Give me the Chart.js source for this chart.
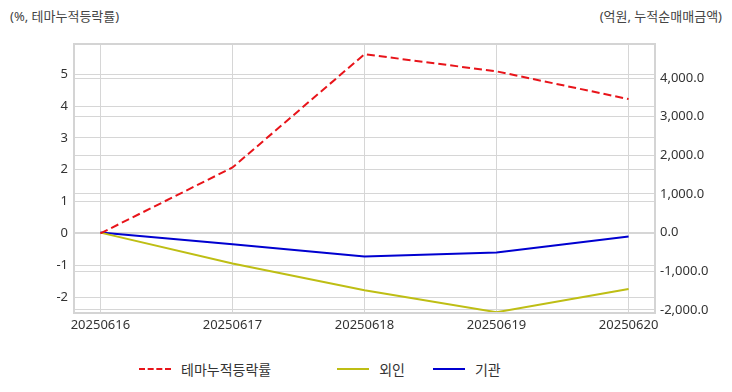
<!DOCTYPE html>
<html>
<head>
<meta charset="utf-8">
<script src="https://cdn.jsdelivr.net/npm/chart.js@4/dist/chart.umd.min.js"></script>
<style>
  html, body { margin: 0; padding: 0; background: #fff; }
  body { width: 732px; height: 392px; position: relative; overflow: hidden;
         font-family: "Noto Sans", "Noto Sans CJK KR", sans-serif; color: #333; }
  .axis-title { position: absolute; top: 6px; font-size: 13px; color: #444; }
  #chart-wrap { position: absolute; left: 0; top: 0; width: 732px; height: 340px; }
  #legend { position: absolute; left: 139px; top: 359px; display: flex; align-items: center; font-size: 14px; color: #333; }
  .lg-item { display: flex; align-items: center; }
  .lg-line { width: 32px; height: 0; border-top-width: 2px; margin-right: 10px; }
</style>
</head>
<body>
  <div class="axis-title" style="left:10px">(%, 테마누적등락률)</div>
  <div class="axis-title" style="right:10px">(억원, 누적순매매금액)</div>
  <div id="chart-wrap"><canvas id="chart"></canvas></div>
  <div id="legend"></div>

<script>
// 날짜
const dates = ['20250616', '20250617', '20250618', '20250619', '20250620'];
// 테마 누적등락률 (%)
const themeRate = [0, 2.07, 5.63, 5.09, 4.22];
// 누적순매매금액 (억원)
const foreignNet = [0, -800, -1490, -2060, -1460];
const instNet = [0, -300, -615, -513, -103];
// 오른쪽 축 눈금
const rightTicks = [-2000, -1000, 0, 1000, 2000, 3000, 4000];

const toPoints = arr => arr.map((v, i) => ({ x: i, y: v }));

const gridColor = '#d6d6d6';
const tickFont = { family: '"Noto Sans", "Noto Sans CJK KR", sans-serif', size: 13 };

const frame = {
  id: 'frame',
  afterDraw(chart) {
    const { ctx, chartArea: a } = chart;
    ctx.save();
    ctx.strokeStyle = '#d4d4d4';
    ctx.lineWidth = 2;
    ctx.strokeRect(a.left, a.top, a.right - a.left, a.bottom - a.top);
    ctx.restore();
  }
};

const chart = new Chart(document.getElementById('chart'), {
  type: 'line',
  data: {
    datasets: [
      { label: '테마누적등락률', data: toPoints(themeRate), yAxisID: 'y',
        borderColor: '#e8141a', borderWidth: 2, borderDash: [8, 4], pointRadius: 0, tension: 0 },
      { label: '외인', data: toPoints(foreignNet), yAxisID: 'y1',
        borderColor: '#bebe14', borderWidth: 2, pointRadius: 0, tension: 0 },
      { label: '기관', data: toPoints(instNet), yAxisID: 'y1',
        borderColor: '#0000d0', borderWidth: 2, pointRadius: 0, tension: 0 }
    ]
  },
  options: {
    responsive: true,
    maintainAspectRatio: false,
    animation: false,
    layout: { padding: { top: 44, left: 0, right: 0, bottom: 0 } },
    plugins: { legend: { display: false }, tooltip: { enabled: false } },
    scales: {
      x: {
        type: 'linear', min: -0.2, max: 4.2,
        grid: { color: gridColor, drawTicks: false },
        border: { display: false },
        ticks: { stepSize: 1, includeBounds: false, padding: 4, color: '#333', font: tickFont,
                 maxRotation: 0, callback: v => dates[v] ?? '' },
        afterFit: s => { s.height = 27; }
      },
      y: {
        position: 'left', min: -2.5, max: 5.95,
        grid: { color: gridColor, drawTicks: false },
        border: { display: false },
        ticks: { stepSize: 1, includeBounds: false, padding: 6, color: '#333', font: tickFont },
        afterFit: s => { s.width = 74; }
      },
      y1: {
        position: 'right', min: -2080, max: 4880,
        grid: { color: gridColor, drawTicks: false },
        border: { display: false },
        afterBuildTicks: s => { s.ticks = rightTicks.map(v => ({ value: v })); },
        ticks: { padding: 5, color: '#333', font: tickFont,
                 callback: v => v.toLocaleString('en-US', { minimumFractionDigits: 1, maximumFractionDigits: 1 }) },
        afterFit: s => { s.width = 77; }
      }
    }
  },
  plugins: [frame]
});

// 범례
const gaps = [66, 28, 0];
const legend = document.getElementById('legend');
chart.data.datasets.forEach((ds, i) => {
  const item = document.createElement('div');
  item.className = 'lg-item';
  item.style.marginRight = gaps[i] + 'px';
  const line = document.createElement('span');
  line.className = 'lg-line';
  line.style.borderTopStyle = ds.borderDash ? 'dashed' : 'solid';
  line.style.borderTopColor = ds.borderColor;
  const txt = document.createElement('span');
  txt.textContent = ds.label;
  item.appendChild(line);
  item.appendChild(txt);
  legend.appendChild(item);
});
</script>
</body>
</html>
